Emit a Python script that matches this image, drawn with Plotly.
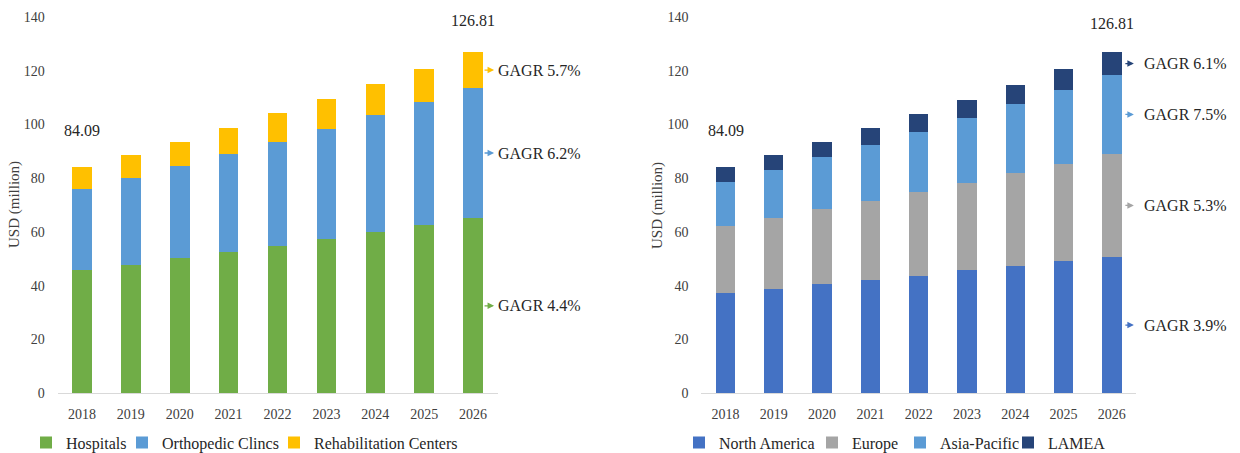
import plotly.graph_objects as go

# ---------------- data ----------------
years = ["2018", "2019", "2020", "2021", "2022", "2023", "2024", "2025", "2026"]

# Left chart: by end user (USD million)
hospitals = [45.8, 47.9, 50.2, 52.5, 54.9, 57.4, 60.0, 62.6, 65.1]
orthopedic_clinics = [30.1, 32.2, 34.4, 36.4, 38.5, 41.0, 43.5, 45.8, 48.6]
rehab_centers = [8.19, 8.7, 9.0, 9.8, 10.7, 11.0, 11.5, 12.4, 13.11]

# Right chart: by region (USD million)
north_america = [37.2, 38.9, 40.6, 42.2, 43.8, 45.7, 47.3, 49.1, 50.8]
europe = [25.1, 26.4, 27.8, 29.5, 31.0, 32.6, 34.5, 36.2, 38.2]
asia_pacific = [16.5, 17.9, 19.5, 20.8, 22.5, 24.1, 25.7, 27.7, 29.5]
lamea = [5.29, 5.6, 5.7, 6.2, 6.5, 6.8, 7.2, 7.5, 8.31]

left_names = ["Hospitals", "Orthopedic Clincs", "Rehabilitation Centers"]
right_names = ["North America", "Europe", "Asia-Pacific", "LAMEA"]
left_cagr = ["GAGR 4.4%", "GAGR 6.2%", "GAGR 5.7%"]
right_cagr = ["GAGR 3.9%", "GAGR 5.3%", "GAGR 7.5%", "GAGR 6.1%"]

left_colors = ["#70AD47", "#5B9BD5", "#FFC000"]
right_colors = ["#4472C4", "#A5A5A5", "#5B9BD5", "#264478"]

W, H = 1240, 453
FONT = "Liberation Serif, Times New Roman, serif"
TICK_COLOR = "#404040"
TEXT_COLOR = "#262626"


def px_x(p):
    return p / W


def px_y(p):
    return (H - p) / H


fig = go.Figure()

left_series = [hospitals, orthopedic_clinics, rehab_centers]
right_series = [north_america, europe, asia_pacific, lamea]

# legend text-start positions (px) for each entry
left_leg_text = [66, 162, 314]
right_leg_text = [719, 852, 940, 1048]

legend_layouts = {}
leg_idx = 1


def leg_cfg(tx):
    return dict(x=px_x(tx - 40), y=px_y(442.7), xanchor="left", yanchor="middle",
                orientation="h", bgcolor="rgba(0,0,0,0)", borderwidth=0,
                font=dict(family=FONT, size=16, color=TEXT_COLOR), itemwidth=30)


for name, vals, col, tx in zip(left_names, left_series, left_colors, left_leg_text):
    lname = "legend" if leg_idx == 1 else f"legend{leg_idx}"
    fig.add_trace(go.Bar(x=years, y=vals, name=name, marker=dict(color=col, line=dict(width=0)),
                         xaxis="x", yaxis="y", legend=lname, showlegend=True))
    legend_layouts[lname] = leg_cfg(tx)
    leg_idx += 1
for name, vals, col, tx in zip(right_names, right_series, right_colors, right_leg_text):
    lname = f"legend{leg_idx}"
    fig.add_trace(go.Bar(x=years, y=vals, name=name, marker=dict(color=col, line=dict(width=0)),
                         xaxis="x2", yaxis="y2", legend=lname, showlegend=True))
    legend_layouts[lname] = leg_cfg(tx)
    leg_idx += 1

annotations = []
first_i = 0
last_i = len(years) - 1


def add_chart_annotations(series, cagr, colors, xref, yref, last_shift, arrow_head, arrow_len, text_shift):
    totals = [sum(v) for v in zip(*series)]
    annotations.append(dict(x=first_i, y=totals[first_i], xref=xref, yref=yref, text=f"{totals[first_i]:.2f}",
                            showarrow=False, yshift=37, font=dict(family=FONT, size=16, color=TEXT_COLOR)))
    annotations.append(dict(x=last_i, y=totals[last_i], xref=xref, yref=yref, text=f"{totals[last_i]:.2f}",
                            showarrow=False, yshift=last_shift, font=dict(family=FONT, size=16, color=TEXT_COLOR)))
    base = 0.0
    for vals, label, col in zip(series, cagr, colors):
        mid = base + vals[last_i] / 2.0
        base += vals[last_i]
        annotations.append(dict(x=last_i, y=mid, xref=xref, yref=yref, text="", showarrow=True,
                                xshift=arrow_head, ax=-arrow_len, ay=0, arrowhead=2, arrowsize=1.0,
                                arrowwidth=1.3, arrowcolor=col, standoff=0, startstandoff=0))
        annotations.append(dict(x=last_i, y=mid, xref=xref, yref=yref, text=label, showarrow=False,
                                xshift=text_shift, xanchor="left", yanchor="middle",
                                font=dict(family=FONT, size=16, color=TEXT_COLOR)))


add_chart_annotations(left_series, left_cagr, left_colors, "x", "y", 32, 21, 11, 23)
add_chart_annotations(right_series, right_cagr, right_colors, "x2", "y2", 29, 22, 10, 30)

# y-axis titles
for cx in (14, 657):
    annotations.append(dict(x=px_x(cx), y=px_y(205), xref="paper", yref="paper", text="USD (million)",
                            textangle=-90, showarrow=False, xanchor="center", yanchor="middle",
                            font=dict(family=FONT, size=15, color=TICK_COLOR)))

y_dom = [px_y(393.3), px_y(17)]
xaxis_common = dict(type="category", range=[-0.5, len(years) - 0.5], showgrid=False, zeroline=False,
                    showline=True, linecolor="#D9D9D9", linewidth=1, ticks="outside", ticklen=8,
                    tickcolor="rgba(0,0,0,0)", tickfont=dict(family=FONT, size=14, color=TICK_COLOR),
                    fixedrange=True)
yaxis_common = dict(range=[0, 140], dtick=20, showgrid=False, zeroline=False, showline=False,
                    ticks="outside", ticklen=9, tickcolor="rgba(0,0,0,0)",
                    tickfont=dict(family=FONT, size=14, color=TICK_COLOR), fixedrange=True, domain=y_dom)

layout = dict(
    width=W, height=H,
    margin=dict(l=0, r=0, t=0, b=0, autoexpand=False),
    paper_bgcolor="white", plot_bgcolor="white",
    barmode="stack", bargap=0.6,
    showlegend=True,
    xaxis=dict(xaxis_common, domain=[px_x(57.5), px_x(497.5)], anchor="y"),
    yaxis=dict(yaxis_common, anchor="x"),
    xaxis2=dict(xaxis_common, domain=[px_x(701.4), px_x(1136)], anchor="y2"),
    yaxis2=dict(yaxis_common, anchor="x2"),
    annotations=annotations,
    font=dict(family=FONT, color=TEXT_COLOR),
)
layout.update(legend_layouts)
fig.update_layout(**layout)

fig.write_html("out.html")
